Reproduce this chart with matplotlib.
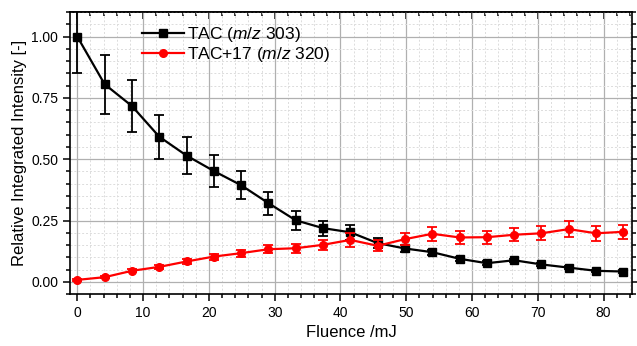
import matplotlib
matplotlib.use("Agg")
import matplotlib.pyplot as plt
from matplotlib.ticker import MultipleLocator, FormatStrFormatter
from matplotlib.lines import Line2D

plt.rcParams['font.family'] = ['Liberation Sans', 'DejaVu Sans']
plt.rcParams['mathtext.fontset'] = 'custom'
plt.rcParams['mathtext.rm'] = 'Liberation Sans'
plt.rcParams['mathtext.it'] = 'Liberation Sans:italic'

fluence = [0, 4.15, 8.3, 12.45, 16.6, 20.75, 24.9, 29.05, 33.2, 37.35, 41.5,
           45.65, 49.8, 53.95, 58.1, 62.25, 66.4, 70.55, 74.7, 78.85, 83.0]

tac = [1.00, 0.806, 0.717, 0.592, 0.515, 0.452, 0.394, 0.321, 0.251, 0.219, 0.202,
       0.158, 0.136, 0.121, 0.094, 0.076, 0.088, 0.071, 0.058, 0.045, 0.042]
tac_err = [0.147, 0.12, 0.107, 0.09, 0.077, 0.067, 0.058, 0.047, 0.038, 0.031, 0.03,
           0.021, 0.016, 0.01, 0.008, 0.007, 0.007, 0.006, 0.006, 0.005, 0.005]

tac17 = [0.008, 0.019, 0.045, 0.061, 0.083, 0.103, 0.117, 0.133, 0.137, 0.151, 0.171,
         0.147, 0.174, 0.196, 0.181, 0.182, 0.192, 0.198, 0.215, 0.198, 0.204]
tac17_err = [0.004, 0.005, 0.006, 0.008, 0.01, 0.012, 0.014, 0.016, 0.018, 0.02, 0.027,
             0.022, 0.024, 0.028, 0.026, 0.027, 0.027, 0.028, 0.032, 0.03, 0.029]

label_tac = r'TAC ($\mathit{m/z}$ 303)'
label_tac17 = r'TAC+17 ($\mathit{m/z}$ 320)'

fig = plt.figure(figsize=(6.37, 3.46), dpi=100)
ax = fig.add_axes([0.110, 0.150, 0.882, 0.815])

style = dict(markersize=5.5, linewidth=1.6)
ax.errorbar(fluence, tac, yerr=tac_err, color='black', marker='s',
            elinewidth=1.3, capsize=3.5, capthick=1.3, zorder=3, **style)
ax.errorbar(fluence, tac17, yerr=tac17_err, color='#ff0000', marker='o',
            elinewidth=1.3, capsize=3.5, capthick=1.3, zorder=4, **style)

ax.set_xlim(-1.1, 84.3)
ax.set_ylim(-0.05, 1.10)
ax.xaxis.set_major_locator(MultipleLocator(10))
ax.xaxis.set_minor_locator(MultipleLocator(2))
ax.yaxis.set_major_locator(MultipleLocator(0.25))
ax.yaxis.set_minor_locator(MultipleLocator(0.05))
ax.yaxis.set_major_formatter(FormatStrFormatter('%.2f'))

ax.grid(which='major', color='#b0b0b0', linewidth=0.9)
ax.grid(which='minor', color='#dcdcdc', linewidth=0.7, linestyle=(0, (2, 2)))
ax.set_axisbelow(True)

for s in ax.spines.values():
    s.set_linewidth(1.2)

ax.tick_params(which='both', direction='out', width=1.1, labelsize=10,
               right=True, top=False)
ax.tick_params(which='major', length=5)
ax.tick_params(which='minor', length=3)
secx = ax.secondary_xaxis('top')
secx.xaxis.set_major_locator(MultipleLocator(10))
secx.xaxis.set_minor_locator(MultipleLocator(2))
secx.tick_params(which='both', direction='in', width=1.1, labeltop=False)
secx.tick_params(which='major', length=5)
secx.tick_params(which='minor', length=3)
secx.spines['top'].set_linewidth(1.2)

ax.set_xlabel('Fluence /mJ', fontsize=12, labelpad=4)
ax.set_ylabel('Relative Integrated Intensity [-]', fontsize=12, labelpad=3)

handles = [
    Line2D([], [], color='black', marker='s', **style),
    Line2D([], [], color='#ff0000', marker='o', **style),
]
ax.legend(handles, [label_tac, label_tac17], loc='upper left',
          bbox_to_anchor=(0.105, 1.0), frameon=False,
          fontsize=12.5, handlelength=2.4, handletextpad=0.2, labelspacing=0.05,
          borderaxespad=0.35)

fig.savefig('out.png', dpi=100)
